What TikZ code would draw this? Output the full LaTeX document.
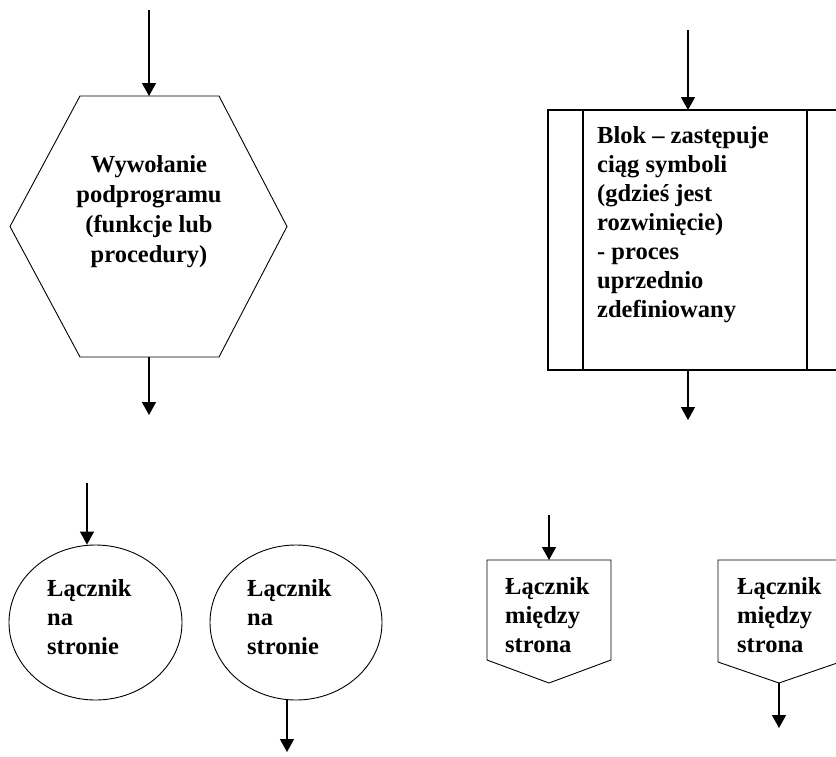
\documentclass[tikz,border=0pt]{standalone}
\usepackage{fontspec}
\setmainfont{Liberation Serif}
\usetikzlibrary{arrows.meta,shapes.geometric}
\tikzset{
  outline/.style={draw=black, line width=0.9pt},
  flow/.style={draw=black, line width=1.3pt, -{Triangle[width=14pt,length=13pt]}},
  % multi-line labels are placed by the baseline of their last line
  lbl/.style={inner sep=0pt, align=left, anchor=base west,
    font=\bfseries\fontsize{24.5}{29}\selectfont},
  lblc/.style={lbl, align=center, anchor=base,
    font=\bfseries\fontsize{24.5}{30}\selectfont},
}
\begin{document}
\begin{tikzpicture}[x=1pt, y=-1pt]
\useasboundingbox (0,0) rectangle (836,756);
\clip (0,0) rectangle (836,756);

% --- subroutine call (hexagon) ---
\coordinate (hexT) at (149,96);
\coordinate (hexB) at (149,357);
\draw[outline] (10,226.5) -- (80,96) -- (219,96) -- (287,226.5)
  -- (219,357) -- (80,357) -- cycle;
\node[lblc] (hextxt) at (149,262) {Wywołanie\\podprogramu\\(funkcje lub\\procedury)};
\coordinate (hexIn) at (149,10);
\coordinate (hexOut) at (149,415);
\draw[flow] (hexIn) -- (hexT);
\draw[flow] (hexB) -- (hexOut);

% --- predefined process (block) ---
\coordinate (blkT) at (688,110);
\coordinate (blkB) at (688,370);
\draw[outline, line width=1.2pt] (548,110) rectangle (843,370);
\draw[outline, line width=1.2pt] (583,110) -- (583,370);
\draw[outline, line width=1.2pt] (807,110) -- (807,370);
\node[lbl] (blktxt) at (597,317) {Blok – zastępuje\\ciąg symboli\\(gdzieś jest\\rozwinięcie)\\- proces\\uprzednio\\zdefiniowany};
\coordinate (blkIn) at (688,30);
\coordinate (blkOut) at (688,420);
\draw[flow] (blkIn) -- (blkT);
\draw[flow] (blkB) -- (blkOut);

% --- on-page connectors (circles) ---
\node[outline, ellipse, minimum width=173pt, minimum height=155pt] (c1) at (95.5,622.5) {};
\node[outline, ellipse, minimum width=172pt, minimum height=155pt] (c2) at (296,622.5) {};
\node[lbl] (c1txt) at (47,654) {Łącznik\\na\\stronie};
\node[lbl] (c2txt) at (247,654) {Łącznik\\na\\stronie};
\coordinate (c1In) at (87,483);
\coordinate (c2Out) at (287,752);
\draw[flow] (c1In) -- (c1In |- c1.north);
\draw[flow] (c2Out |- c2.south) -- (c2Out);

% --- off-page connectors (pentagons) ---
\coordinate (p1T) at (549,560);
\coordinate (p2B) at (779,683);
\draw[outline] (487,560) -- (611,560) -- (611,660) -- (549,683) -- (487,660) -- cycle;
\draw[outline] (718,560) -- (840,560) -- (840,662) -- (779,683) -- (718,662) -- cycle;
\node[lbl] (p1txt) at (505,652) {Łącznik\\między\\strona};
\node[lbl] (p2txt) at (737,652) {Łącznik\\między\\strona};
\coordinate (p1In) at (549,515);
\coordinate (p2Out) at (779,728);
\draw[flow] (p1In) -- (p1T);
\draw[flow] (p2B) -- (p2Out);
\end{tikzpicture}
\end{document}
